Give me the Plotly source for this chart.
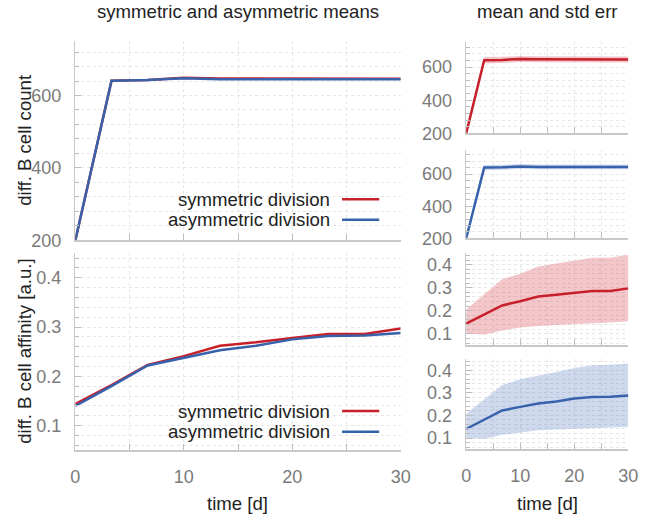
import plotly.graph_objects as go

# ---------------- data ----------------
t = [0, 3.333, 6.667, 10, 13.333, 16.667, 20, 23.333, 26.667, 30]

count_sym = [200, 641, 643, 649, 647, 647, 648, 647, 646, 646]
count_asym = [200, 641, 643, 648, 645, 645, 647, 645, 647, 645]
count_sym_err = [2, 20, 19, 18, 18, 18, 18, 18, 18, 18]
count_asym_err = [2, 16, 16, 15, 15, 15, 15, 15, 15, 15]

aff_sym = [0.144, 0.182, 0.223, 0.241, 0.262, 0.269, 0.278, 0.286, 0.286, 0.297]
aff_asym = [0.140, 0.180, 0.222, 0.238, 0.253, 0.262, 0.275, 0.282, 0.283, 0.288]
aff_sym_lo = [0.100, 0.097, 0.114, 0.127, 0.134, 0.139, 0.143, 0.146, 0.149, 0.154]
aff_sym_hi = [0.205, 0.272, 0.337, 0.360, 0.392, 0.405, 0.418, 0.430, 0.430, 0.443]
aff_asym_lo = [0.100, 0.096, 0.114, 0.124, 0.134, 0.138, 0.142, 0.145, 0.147, 0.149]
aff_asym_hi = [0.207, 0.272, 0.335, 0.360, 0.378, 0.393, 0.410, 0.423, 0.425, 0.430]

series_names = ["symmetric division", "asymmetric division"]
x_ticks = [0, 10, 20, 30]

# ---------------- style ----------------
W, H = 653, 526
RED = "#c8202a"
BLUE = "#3762ab"
RED_FILL = "rgba(214,70,80,0.30)"
BLUE_FILL = "rgba(70,110,185,0.26)"
TICKC = "#bdbdbd"
LINEC = "#c8c8c8"
GRIDC = "#e6e6e6"
LABC = "#7a7a7a"
FONT = "Liberation Sans, Arial, sans-serif"
FS = 18
FS_TXT = 18.6


def px(x):
    return x / W


def py(y):
    return 1 - y / H


fig = go.Figure()


def line(xa, ya, y, color):
    fig.add_trace(go.Scatter(x=t, y=y, mode="lines", line=dict(color=color, width=2.5),
                             xaxis=xa, yaxis=ya, showlegend=False))


def band(xa, ya, lo, hi, fill):
    fig.add_trace(go.Scatter(x=t, y=lo, mode="lines", line=dict(width=0), xaxis=xa, yaxis=ya,
                             showlegend=False, hoverinfo="skip"))
    fig.add_trace(go.Scatter(x=t, y=hi, mode="lines", line=dict(width=0), fill="tonexty",
                             fillcolor=fill, xaxis=xa, yaxis=ya, showlegend=False, hoverinfo="skip"))


# left panels
line("x", "y", count_sym, RED)
line("x", "y", count_asym, BLUE)
line("x2", "y2", aff_sym, RED)
line("x2", "y2", aff_asym, BLUE)

# right panels
band("x3", "y3", [m - e for m, e in zip(count_sym, count_sym_err)],
     [m + e for m, e in zip(count_sym, count_sym_err)], RED_FILL)
line("x3", "y3", count_sym, RED)
band("x4", "y4", [m - e for m, e in zip(count_asym, count_asym_err)],
     [m + e for m, e in zip(count_asym, count_asym_err)], BLUE_FILL)
line("x4", "y4", count_asym, BLUE)
band("x5", "y5", aff_sym_lo, aff_sym_hi, RED_FILL)
line("x5", "y5", aff_sym, RED)
band("x6", "y6", aff_asym_lo, aff_asym_hi, BLUE_FILL)
line("x6", "y6", aff_asym, BLUE)


def xax(domain, anchor, labels):
    return dict(domain=domain, anchor=anchor, range=[0, 30], tickvals=x_ticks,
                showticklabels=labels, ticks="inside", ticklen=6, tickcolor=TICKC,
                showline=True, linecolor=LINEC, linewidth=1.5, showgrid=True,
                gridcolor=GRIDC, griddash="dot", zeroline=False,
                minor=dict(dtick=5, tick0=0, ticks="inside", ticklen=6, tickcolor=TICKC,
                           showgrid=True, gridcolor=GRIDC, griddash="dot"),
                tickfont=dict(size=FS, color=LABC, family=FONT), ticklabelstandoff=10)


def yax(domain, anchor, rng, dtick, tick0, minor):
    return dict(domain=domain, anchor=anchor, range=rng, dtick=dtick, tick0=tick0,
                ticks="inside", ticklen=6, tickcolor=TICKC, showline=True, linecolor=LINEC,
                linewidth=1.5, showgrid=True, gridcolor=GRIDC, griddash="dot", zeroline=False,
                minor=dict(dtick=minor, ticks="inside", ticklen=4, tickcolor=TICKC,
                           showgrid=True, gridcolor=GRIDC, griddash="dot"),
                tickfont=dict(size=FS, color=LABC, family=FONT), ticklabelstandoff=9)


LX = [px(72), px(405)]
RX = [px(472), px(638)]
CNT = ([200, 750], 200, 200, 40)
AFF = ([0.05, 0.45], 0.1, 0.1, 0.02)

fig.update_layout(
    width=W, height=H,
    margin=dict(l=0, r=0, t=0, b=0),
    paper_bgcolor="white", plot_bgcolor="white",
    font=dict(family=FONT, size=FS, color="#222"),
    hovermode=False,
    xaxis=xax(LX, "y", False),
    yaxis=yax([py(245), py(42)], "x", *CNT),
    xaxis2=xax(LX, "y2", True),
    yaxis2=yax([py(459), py(258)], "x2", *AFF),
    xaxis3=xax(RX, "y3", False),
    yaxis3=yax([py(136), py(43)], "x3", *CNT),
    xaxis4=xax(RX, "y4", False),
    yaxis4=yax([py(243), py(153)], "x4", *CNT),
    xaxis5=xax(RX, "y5", False),
    yaxis5=yax([py(352), py(258)], "x5", *AFF),
    xaxis6=xax(RX, "y6", True),
    yaxis6=yax([py(458), py(366)], "x6", *AFF),
)

ann = []
shapes = []


def text(x, y, s, angle=0, xanchor="center"):
    ann.append(dict(x=px(x), y=py(y), xref="paper", yref="paper", text=s, showarrow=False,
                    textangle=angle, xanchor=xanchor, yanchor="middle",
                    font=dict(size=FS_TXT, color="#222", family=FONT)))


text(238, 12, "symmetric and asymmetric means")
text(555, 12, "mean and std err")
text(238, 513, "time [d]")
text(555, 513, "time [d]")
text(20, 143, "diff. B cell count", angle=-90)
text(20, 358, "diff. B cell affinity [a.u.]", angle=-90)

for (y1, y2) in [(203, 224), (419, 440)]:
    for yy, name, col in [(y1, series_names[0], RED), (y2, series_names[1], BLUE)]:
        text(335, yy, name, xanchor="right")
        shapes.append(dict(type="line", xref="paper", yref="paper", x0=px(345), x1=px(383),
                           y0=py(yy), y1=py(yy), line=dict(color=col, width=2.5)))

fig.update_layout(annotations=ann, shapes=shapes)
# remove the browser's default 8px page margin so the figure sits at the window origin
fig.write_html("out.html", config={"displayModeBar": False, "staticPlot": True},
               post_script="document.body.style.margin='0px';")
